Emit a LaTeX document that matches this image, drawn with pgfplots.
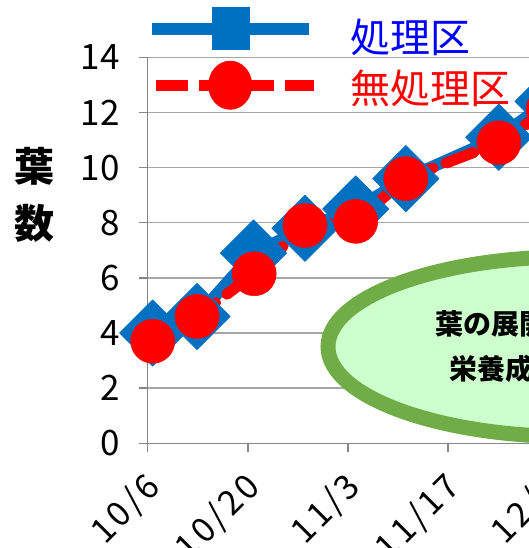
\documentclass[border=0pt]{standalone}
\usepackage{fontspec}
\setmainfont{Noto Sans CJK JP}
\newfontfamily\tickfont{Noto Sans CJK JP}
\newfontfamily\datefont{Noto Sans CJK JP}[LetterSpace=10]
\usepackage{pgfplots}
\pgfplotsset{compat=1.18}
\definecolor{serblue}{HTML}{0070C0}
\definecolor{gridgray}{HTML}{A6A6A6}
\definecolor{axgray}{HTML}{868686}
\definecolor{ovalgreen}{HTML}{70AD47}
\definecolor{ovalfill}{HTML}{CCFFCC}
\definecolor{txtblue}{HTML}{0000FF}

\begin{document}
\begin{tikzpicture}[x=1pt,y=1pt]
\begin{axis}[
  at={(147.7pt,104.7pt)}, anchor=south west,
  scale only axis, width=500.5pt, height=386pt,
  xmin=0, xmax=70, ymin=0, ymax=14,
  clip=false,
  axis x line=bottom, axis y line=left,
  axis line style={-, axgray, line width=1.4pt},
  xtick={0,14,28,42,56,70},
  xticklabels={10/6,10/20,11/3,11/17,12/1,12/15},
  ytick={0,2,...,14},
  ymajorgrids, grid style={gridgray, line width=1.4pt},
  tick align=outside, major tick length=9pt,
  tick style={axgray, line width=1.4pt},
  /pgf/number format/assume math mode=true,
  yticklabel style={font=\tickfont\fontsize{35}{35}\selectfont, anchor=east, inner sep=0pt, xshift=-18.7pt},
  xticklabel style={font=\datefont\fontsize{34}{34}\selectfont, xshift=-5pt, yshift=-17pt, rotate=45, anchor=north east, inner sep=0pt},
  ylabel={葉\\数},
  ylabel style={rotate=-90, align=center, font=\bfseries\fontsize{40}{57}\selectfont,
    at={(axis description cs:-0.2252,0.643)}, anchor=center},
  legend style={at={(axis description cs:-0.0034,1.1303)}, anchor=north west,
    draw=none, fill=none, inner sep=0pt, row sep=6.5pt, column sep=31pt,
    font=\fontsize{40}{40}\selectfont, nodes={inner sep=0pt}},
  legend cell align=left,
]
\addplot[serblue, line width=12pt, line join=round,
  mark=square*, mark size=23.5pt, mark options={rotate=45, solid, line width=0.5pt},
  legend image code/.code={
    \draw[serblue, line width=12pt] (0pt,8pt) -- (157pt,8pt);
    \path[fill=serblue, draw=none] (60pt,-13.5pt) rectangle (98pt,29.5pt);
  }]
  coordinates {(0.7,4.0) (6.9,4.6) (14.8,6.9) (22,7.8) (29.1,8.5) (36.1,9.6) (49.1,11.1) (56,12.4)};
\addlegendentry{\textcolor{txtblue}{処理区}}
\addplot[red, line width=11pt, line cap=round, line join=round, dash pattern=on 30pt off 14pt,
  mark=*, mark size=22pt, mark options={solid, line width=0.5pt},
  legend image code/.code={
    \path (0pt,2pt);
    \draw[red, line width=11pt, line cap=butt, dash pattern=on 32pt off 11pt] (4pt,2pt) -- (162pt,2pt);
    \path[fill=red, draw=none] (78pt,2pt) ellipse (22pt and 24.5pt);
  }]
  coordinates {(0.7,3.7) (6.9,4.6) (14.9,6.15) (22,7.9) (29.1,8.05) (36.1,9.6) (49.1,10.9) (56,12.1)};
\addlegendentry{\textcolor{red}{無処理区}}
\end{axis}
\draw[ovalgreen, line width=15pt, fill=ovalfill] (573pt,201.3pt) ellipse (245pt and 90pt);
\node[align=center, font=\bfseries\fontsize{28}{45}\selectfont, inner sep=0pt] at (505pt,201.5pt) {葉の展開は\\栄養成長};
\pgfresetboundingbox
\path[use as bounding box] (0pt,0pt) rectangle (528pt,548pt);
\end{tikzpicture}
\end{document}
